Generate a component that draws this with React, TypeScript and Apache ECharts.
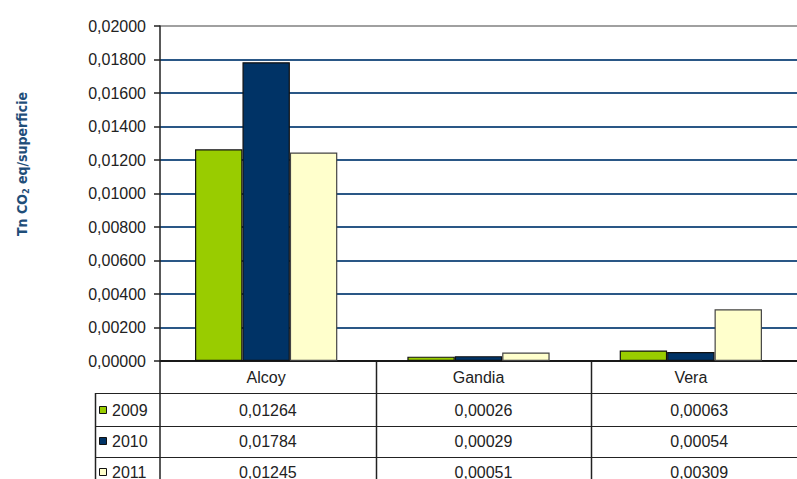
import React, { useEffect, useRef } from "react";
import * as echarts from "echarts";

const categories = ["Alcoy", "Gandia", "Vera"];
const seriesNames = ["2009", "2010", "2011"];
const values2009 = [0.01264, 0.00026, 0.00063];
const values2010 = [0.01784, 0.00029, 0.00054];
const values2011 = [0.01245, 0.00051, 0.00309];
const seriesColors = ["#99cc00", "#003366", "#ffffcc"];
const yMin = 0;
const yMax = 0.02;
const yInterval = 0.002;

const fmt = (v: number) => v.toFixed(5).replace(".", ",");

export default function App() {
  const ref = useRef<HTMLDivElement>(null);
  useEffect(() => {
    document.body.style.margin = "0";
    if (!ref.current) return;
    const chart = echarts.init(ref.current, null, { renderer: "svg" });
    const W = 797;
    const gridLeft = 160;
    const gridTop = 26;
    const gridBottomY = 361;
    const plotRight = 807;
    const catW = (plotRight - gridLeft) / categories.length;
    const rowLines = [393, 426, 457];
    const rowCenters = [410, 441, 472];
    const allValues = [values2009, values2010, values2011];
    const font = "'Liberation Sans', Arial, sans-serif";

    const graphics: any[] = [];
    graphics.push({
      type: "line",
      shape: { x1: gridLeft, y1: gridBottomY, x2: gridLeft, y2: 479 },
      style: { stroke: "#222", lineWidth: 1.5 },
    });
    for (let i = 1; i < categories.length; i++) {
      const x = Math.round(gridLeft + catW * i) + 0.5;
      graphics.push({
        type: "line",
        shape: { x1: x, y1: gridBottomY, x2: x, y2: 479 },
        style: { stroke: "#222", lineWidth: 1.5 },
      });
    }
    graphics.push({
      type: "line",
      shape: { x1: 95.5, y1: rowLines[0], x2: 95.5, y2: 479 },
      style: { stroke: "#222", lineWidth: 1.5 },
    });
    rowLines.forEach((y) => {
      graphics.push({
        type: "line",
        shape: { x1: 95, y1: y + 0.5, x2: W, y2: y + 0.5 },
        style: { stroke: "#222", lineWidth: 1 },
      });
    });
    seriesNames.forEach((name, s) => {
      graphics.push({
        type: "rect",
        shape: { x: 99.5, y: rowCenters[s] - 3.5, width: 7, height: 7 },
        style: { fill: seriesColors[s], stroke: "#111", lineWidth: 1 },
      });
      graphics.push({
        type: "text",
        x: 112,
        y: rowCenters[s],
        style: {
          text: name,
          font: `16px ${font}`,
          fill: "#222",
          textAlign: "left",
          textVerticalAlign: "middle",
        },
      });
      categories.forEach((_, c) => {
        graphics.push({
          type: "text",
          x: gridLeft + catW * (c + 0.5),
          y: rowCenters[s],
          style: {
            text: fmt(allValues[s][c]),
            font: `16px ${font}`,
            fill: "#222",
            textAlign: "center",
            textVerticalAlign: "middle",
          },
        });
      });
    });
    graphics.push({
      type: "text",
      x: 22,
      y: 164,
      rotation: Math.PI / 2,
      style: {
        text: "{a|Tn CO}{s|2}{a| eq/superficie}",
        textAlign: "center",
        textVerticalAlign: "middle",
        rich: {
          a: {
            fontFamily: "'DejaVu Sans Condensed', 'Liberation Sans Narrow', sans-serif",
            fontSize: 14,
            fontWeight: "bold",
            fill: "#1f4e79",
          },
          s: {
            fontFamily: "'DejaVu Sans Condensed', 'Liberation Sans Narrow', sans-serif",
            fontSize: 9,
            fontWeight: "bold",
            fill: "#1f4e79",
            padding: [7, 0, 0, 0],
          },
        },
      },
    });

    const splitColors = ["#000000"];
    for (let i = 0; i < 9; i++) splitColors.push("#2a5786");
    splitColors.push("#a0a0a0");

    chart.setOption({
      animation: false,
      grid: {
        left: gridLeft,
        top: gridTop,
        right: W - plotRight,
        bottom: 479 - gridBottomY,
      },
      xAxis: {
        type: "category",
        data: categories,
        axisLine: { show: true, lineStyle: { color: "#222", width: 1.5 } },
        axisTick: { show: false },
        axisLabel: {
          fontSize: 16,
          fontFamily: font,
          color: "#222",
          margin: 8,
        },
      },
      yAxis: {
        type: "value",
        min: yMin,
        max: yMax,
        interval: yInterval,
        axisLine: { show: true, lineStyle: { color: "#222", width: 1.5 } },
        axisTick: { show: true, length: 6, lineStyle: { color: "#222", width: 1.5 } },
        axisLabel: {
          formatter: (v: number) => fmt(v),
          fontSize: 16,
          fontFamily: font,
          color: "#222",
          margin: 14,
        },
        splitLine: { show: true, lineStyle: { color: splitColors, width: 2 } },
      },
      series: seriesNames.map((name, s) => ({
        name,
        type: "bar",
        data: allValues[s],
        barGap: "0%",
        barCategoryGap: "33%",
        itemStyle: {
          color: seriesColors[s],
          borderColor: s === 2 ? "#444" : "#111",
          borderWidth: 1.2,
        },
      })),
      graphic: graphics,
    });
    return () => chart.dispose();
  }, []);
  return <div ref={ref} style={{ width: 797, height: 479 }} />;
}
